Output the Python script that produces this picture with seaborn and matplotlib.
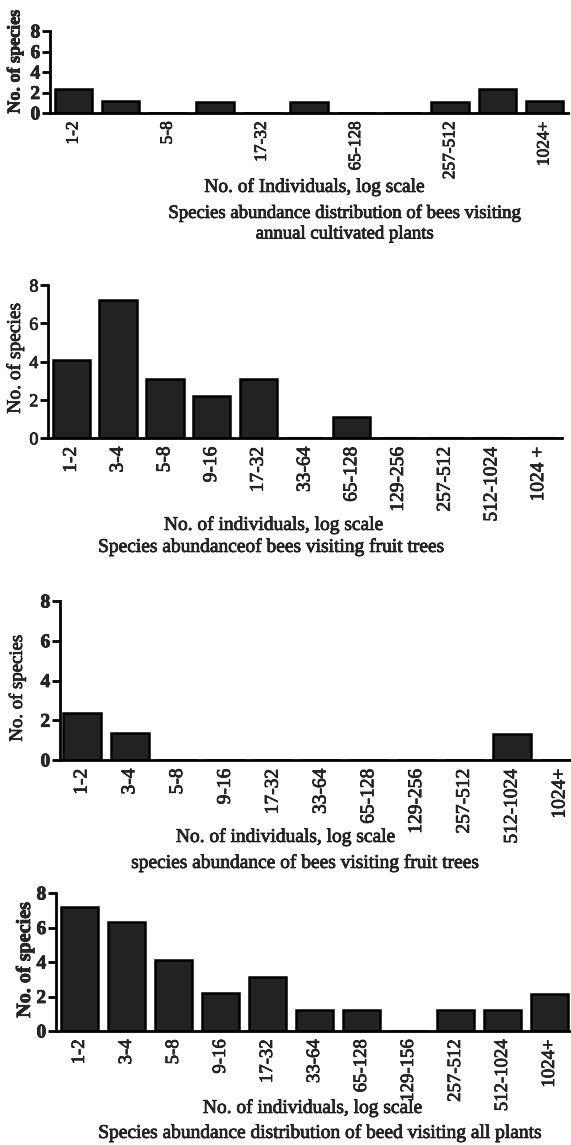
import numpy as np
import pandas as pd
import matplotlib
matplotlib.use('Agg')
import matplotlib.pyplot as plt
import matplotlib.patheffects as pe
import seaborn as sns

sns.set_style('white')
plt.rcParams['font.family'] = ['Liberation Serif', 'DejaVu Serif']

# classes de abundancia (eixo x) e numero de especies por painel
classes = ['1-2', '3-4', '5-8', '9-16', '17-32', '33-64', '65-128',
           '129-256', '257-512', '512-1024', '1024+']
classes_p2 = ['1-2', '3-4', '5-8', '9-16', '17-32', '33-64', '65-128',
              '129-256', '257-512', '512-1024', '1024 +']
classes_p4 = ['1-2', '3-4', '5-8', '9-16', '17-32', '33-64', '65-128',
              '129-156', '257-512', '512-1024', '1024+']

anuais = [2.3, 1.2, 0, 1.1, 0, 1.1, 0, 0, 1.1, 2.3, 1.2]
frutiferas = [4.1, 7.2, 3.1, 2.2, 3.1, 0, 1.1, 0, 0, 0, 0]
frutiferas2 = [2.35, 1.35, 0, 0, 0, 0, 0, 0, 0, 1.3, 0]
todas = [7.2, 6.3, 4.1, 2.2, 3.15, 1.2, 1.2, 0, 1.2, 1.2, 2.15]

y_ticks = [0, 2, 4, 6, 8]

W, H = 571, 1145
fig = plt.figure(figsize=(W / 100, H / 100), dpi=100)


def eixo(l, r, t, b):
    return fig.add_axes([l / W, 1 - b / H, (r - l) / W, (b - t) / H])


def texto(x, y, s, size=14, weight='normal', rot=0):
    fig.text(x / W, 1 - y / H, s, ha='center', va='center', fontsize=size,
             fontweight=weight, rotation=rot)


def painel(ax, cats, vals, rotulos=None, marcas=True, xlim=(-0.5, 10.5),
           tick_size=14, ybold=True, ysize=14):
    df = pd.DataFrame({'classe': cats, 'n': vals})
    sns.barplot(data=df, x='classe', y='n', order=cats, color='#222222',
                edgecolor='black', linewidth=1.8, width=0.8, saturation=1,
                ax=ax)
    ax.set_xlim(*xlim)
    ax.set_ylim(0, 8)
    sns.despine(ax=ax)
    for s in ['left', 'bottom']:
        ax.spines[s].set_linewidth(2)
        ax.spines[s].set_color('black')
    n = len(cats)
    if rotulos is None:
        rotulos = cats
    if marcas:
        ax.set_xticks(np.arange(n + 1) - 0.5)
        ax.set_xticklabels([''] * (n + 1))
        ax.tick_params(axis='x', which='major', direction='inout', length=9,
                       width=2, color='black')
    else:
        ax.set_xticks([])
    ax.set_xticks(np.arange(n), minor=True)
    ax.set_xticklabels(rotulos, minor=True, rotation=90, fontsize=tick_size)
    ax.tick_params(axis='x', which='minor', length=0, pad=6)
    ax.set_yticks(y_ticks)
    ax.set_yticklabels([str(v) for v in y_ticks], fontsize=ysize,
                       fontweight='bold' if ybold else 'normal')
    ax.tick_params(axis='y', direction='out', length=6, width=2,
                   color='black', pad=1, left=True)
    ax.set_xlabel('')
    ax.set_ylabel('')


# painel 1 - plantas anuais cultivadas
ax1 = eixo(50, 568, 31, 113)
painel(ax1, classes, anuais,
       rotulos=[c if i % 2 == 0 else '' for i, c in enumerate(classes)],
       tick_size=12.5)
texto(15, 62, 'No. of species', size=13, weight='bold', rot=90)
texto(315, 187, 'No. of Individuals, log scale')
texto(345, 213, 'Species abundance distribution of bees visiting', size=13.5)
texto(345, 234, 'annual cultivated plants', size=13.5)

# painel 2 - arvores frutiferas
ax2 = eixo(48, 562, 285, 438)
painel(ax2, classes_p2, frutiferas, ybold=False, ysize=13)
texto(15, 358, 'No. of species', size=14, rot=90)
texto(274, 525, 'No. of individuals, log scale')
texto(272, 547, 'Species abundanceof bees visiting fruit trees')

# painel 3 - arvores frutiferas (sem marcas no eixo x)
ax3 = eixo(60, 571, 601, 760)
painel(ax3, classes, frutiferas2, marcas=False, xlim=(-0.46, 10.23))
texto(17, 688, 'No. of species', size=13.5, rot=90)
texto(286, 837, 'No. of individuals, log scale')
texto(306, 863, 'species abundance of bees visiting fruit trees')

# painel 4 - todas as plantas
ax4 = eixo(56, 573, 893, 1031)
painel(ax4, classes_p4, todas, tick_size=13.5)
texto(25, 960, 'No. of species', size=14.5, weight='bold', rot=90)
texto(313, 1108, 'No. of individuals, log scale')
texto(321, 1133, 'Species abundance distribution of beed visiting all plants')

# texto um pouco mais "pesado", como no original digitalizado
for t in fig.findobj(matplotlib.text.Text):
    t.set_path_effects([pe.withStroke(linewidth=0.5, foreground='black')])

fig.savefig('out.png', dpi=100)
